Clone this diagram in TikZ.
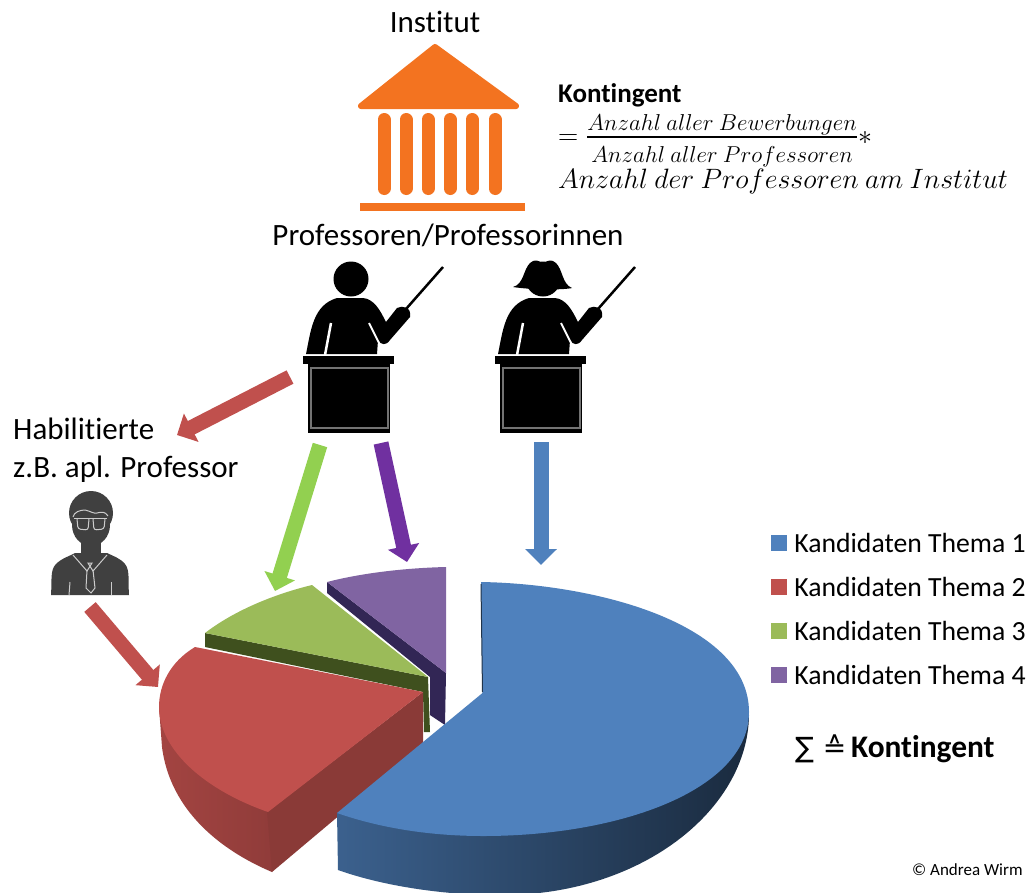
\documentclass[tikz,border=0pt]{standalone}
\usepackage{fix-cm}
\usepackage{amsmath}
\usepackage{amssymb}
\usepackage[no-math]{fontspec}
\setmainfont{Carlito}[Ligatures=NoCommon]
\newfontfamily\symbolfont{DejaVu Sans}
\usepackage{tikz}
\usetikzlibrary{calc,matrix,positioning,arrows.meta}
\definecolor{instOrange}{RGB}{243,115,32}
\definecolor{themaBlue}{RGB}{79,129,189}
\definecolor{themaRed}{RGB}{192,80,77}
\definecolor{themaGreen}{RGB}{155,187,89}
\definecolor{themaPurple}{RGB}{128,100,162}
\definecolor{arrowGreen}{RGB}{146,208,80}
\definecolor{arrowPurple}{RGB}{112,48,160}
\definecolor{sideGreen}{RGB}{63,80,30}
\definecolor{sidePurple}{RGB}{50,38,85}
\definecolor{personGray}{RGB}{64,64,64}
\newcommand{\fracline}[1]{\text{\fontsize{23}{26}\selectfont$#1$}}
\tikzset{
label/.style={inner sep=0pt,font=\fontsize{31}{38}\selectfont},
themaArrow/.style={line width=15pt,-{Triangle[length=16pt,width=31pt]}},
legendBox/.style={minimum size=16pt,inner sep=0pt},
figureLine/.style={draw=white!80!black,line width=1pt,fill=none},
teacher/.pic={
\fill (351,279) circle (17.5);
\fill (306,354) .. controls (311,330) and (313,305) .. (337,298) -- (363,298) .. controls (374,299) and (380,310) .. (386,322) -- (397,308) .. controls (402,305) and (412,307) .. (410,317) -- (390,340) .. controls (386,346) and (381,345) .. (378,340) -- (377,354) -- cycle;
\draw[white,line width=2.5pt] (331,323) -- (325,355);
\draw[white,line width=2pt] (369,323) -- (379,343);
\draw[line width=2.5pt] (406,309) -- (443,267);
\fill (303,356) rectangle (394,364);
\fill (308,364) rectangle (390,433);
\draw[black!55,line width=1.2pt] (311,368) rectangle (388,428);
},
teacherHair/.pic={
\fill (321,287) .. controls (332,284) and (331,270) .. (338,263) .. controls (342,259) and (347,260) .. (351,264) .. controls (355,260) and (360,259) .. (364,263) .. controls (371,270) and (370,284) .. (380,288) .. controls (372,290) and (340,290) .. cycle;
}
}
\begin{document}
\begin{tikzpicture}[x=1pt,y=-1pt]
\useasboundingbox[fill=white] (0,0) rectangle (1031,892);

\node[label] (institut) at (435,22) {Institut};
\filldraw[instOrange,line width=6pt,line join=round] (435,47) -- (361,106) -- (516,106) -- cycle;
\foreach \x in {384,406,428,450,472,495} {
\draw[instOrange,line width=13pt,line cap=round] (\x,119.5) -- (\x,188.5);
}
\fill[instOrange] (360,203) rectangle (525,211);
\node[label] (professoren) at (448,235) {Professoren/Professorinnen};

\node[inner sep=0pt,anchor=west,font=\fontsize{27}{30}\selectfont\bfseries] (kontingent) at (558,95) {Kontingent};
\node[inner sep=0pt,anchor=base west,font=\fontsize{28}{32}\selectfont] (formula) at (558,144) {$=\frac{\fracline{Anzahl\ aller\ Bewerbungen}}{\rule{0pt}{24pt}\fracline{Anzahl\ aller\ Professoren}}*$};
\node[inner sep=0pt,anchor=west,font=\fontsize{28}{32}\selectfont] (factor) at (558,181) {$Anzahl\ der\ Professoren\ am\ Institut$};

\pic (profM) at (0,0) {teacher};
\pic (profF) at (192,0) {teacher};
\pic (profFHair) at (192,0) {teacherHair};

\node[label,anchor=west,align=left] (habil) at (13,450) {Habilitierte\\z.B. apl. Professor};

\fill[personGray] (91,513) circle (22);
\fill[personGray] (91,525) ellipse (19 and 21);
\fill[personGray] (81,540) rectangle (101,556);
\fill[personGray] (51,595) .. controls (52,580) and (50,570) .. (56,564) .. controls (62,558) and (70,556) .. (75,553) -- (107,553) .. controls (113,556) and (120,558) .. (125,564) .. controls (130,570) and (128,580) .. (129,595) -- cycle;
\draw[figureLine] (74,518) -- (107,518);
\draw[figureLine,rounded corners=2.5pt] (77,519) -- (78,529) -- (88,530) -- (89,519);
\draw[figureLine,rounded corners=2.5pt] (93,519) -- (94,530) -- (104,529) -- (105,519);
\draw[figureLine] (73,517) .. controls (74,512) and (80,510) .. (85,510) .. controls (90,511) and (94,514) .. (97,513) .. controls (101,512) and (105,511) .. (108,516);
\draw[figureLine] (73,555) -- (87,571) -- (92,563) -- (88,563) -- (93,571) -- (107,555);
\draw[figureLine] (87,570) -- (86,588) -- (91,593) -- (95,588) -- (93,570);
\draw[figureLine] (70,582) -- (69,595);
\draw[figureLine] (111,582) -- (111,595);

\fill[sidePurple] (327,582) -- (446,673) -- (445,725) -- (430,715) -- (430,677) -- (327,593) -- cycle;
\fill[themaPurple] (446,673) -- (446,567) .. controls (405,568) and (362,573) .. (327,582) -- cycle;
\fill[sideGreen] (205,633) -- (428,677) -- (430,732) -- (424,732) -- (423,692) -- (205,647) -- cycle;
\fill[themaGreen] (428,677) -- (312,585) .. controls (275,594) and (235,610) .. (205,633) -- cycle;
\shade[left color=themaRed!85!black,right color=themaRed!75!black] (159,707) -- (162,747) .. controls (170,810) and (220,850) .. (272,872) -- (272,812) -- cycle;
\fill[themaRed!72!black] (267,812) -- (423,692) -- (423,745) -- (272,872) -- cycle;
\fill[themaRed] (423,692) -- (195,647) .. controls (170,662) and (159,685) .. (159,707) .. controls (159,750) and (205,790) .. (268,812) -- cycle;

\shade[left color=themaBlue!75!black,middle color=themaBlue!45!black,right color=themaBlue!33!black] (337,813) -- (338,870) .. controls (380,885) and (440,895) .. (497,895) .. controls (640,897) and (748,810) .. (749,715) -- (640,800) -- cycle;
\fill[themaBlue] (482.5,693) -- (481,582) .. controls (600,584) and (749,625) .. (749,712) .. controls (749,790) and (620,836) .. (483,836) .. controls (430,836) and (380,828) .. (337,813) -- cycle;
\draw[themaBlue!40!black,line width=1pt] (481,584) -- (482.5,692);

\coordinate (habilStart) at (290,377);
\coordinate (habilEnd) at (177,435);
\coordinate (greenStart) at (320,445);
\coordinate (greenEnd) at (275,591);
\coordinate (purpleStart) at (381,443);
\coordinate (purpleEnd) at (407,562);
\coordinate (blueStart) at (541,442);
\coordinate (blueEnd) at (541,565);
\coordinate (redStart) at (90,607);
\coordinate (redEnd) at (158,687);
\draw[themaArrow,themaRed] (habilStart) -- (habilEnd);
\draw[themaArrow,arrowGreen] (greenStart) -- (greenEnd);
\draw[themaArrow,arrowPurple] (purpleStart) -- (purpleEnd);
\draw[themaArrow,themaBlue] (blueStart) -- (blueEnd);
\draw[themaArrow,themaRed] (redStart) -- (redEnd);

\matrix(legend) at (898.5,609) [matrix of nodes, row sep=0pt, column sep=7pt, nodes={anchor=center,inner sep=0pt,minimum height=44pt,font=\fontsize{27.7}{32}\selectfont},ampersand replacement=\&] {
|[legendBox,fill=themaBlue]| {} \& Kandidaten Thema 1 \\
|[legendBox,fill=themaRed]| {} \& Kandidaten Thema 2 \\
|[legendBox,fill=themaGreen]| {} \& Kandidaten Thema 3 \\
|[legendBox,fill=themaPurple]| {} \& Kandidaten Thema 4 \\
};
\node[inner sep=0pt,anchor=west,font=\fontsize{28}{32}\selectfont] (summe) at (795,749) {{\symbolfont ∑ ≙}\,\textbf{\fontsize{31.4}{32}\selectfont Kontingent}};
\node[inner sep=0pt,anchor=west,font=\fontsize{17}{20}\selectfont] (copyright) at (912,870) {© Andrea Wirm};
\end{tikzpicture}
\end{document}
